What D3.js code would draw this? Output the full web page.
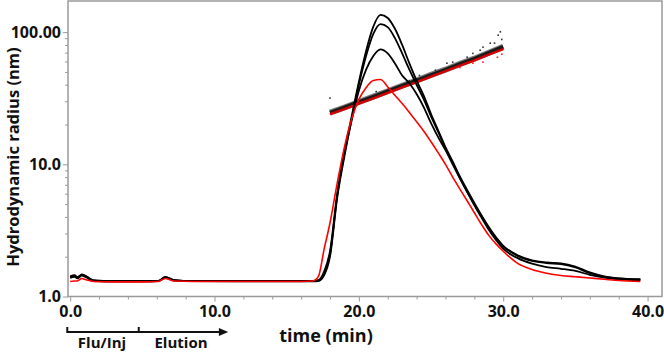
<!DOCTYPE html>
<html lang="en">
<head>
<meta charset="UTF-8">
<title>Hydrodynamic radius</title>
<script src="https://d3js.org/d3.v7.min.js"></script>
<style>
  body { margin: 0; background: #ffffff; overflow: hidden; }
  svg { display: block; font-family: "Open Sans", sans-serif; }
  .tick text { font-family: "Open Sans", sans-serif; font-weight: 700; fill: #111; }
</style>
</head>
<body>
<div id="chart"></div>
<script>
// elution time (min), shared by the four traces
const times = [0, 0.3, 0.5, 0.8, 1.1, 1.6, 3, 5, 6.1, 6.6, 7.2, 8.5, 12, 16, 16.8, 17.2, 17.6, 18, 18.5, 19,
  19.5, 20, 20.5, 21, 21.5, 22, 22.5, 23, 23.5, 24, 24.5, 25, 25.5, 26, 26.5, 27, 27.5, 28, 28.5, 29,
  29.5, 30, 31, 32, 33, 34, 35, 36, 37, 38, 39.5];

// black traces (three runs)
const blackA = [1.40, 1.43, 1.39, 1.46, 1.42, 1.32, 1.30, 1.30, 1.31, 1.40, 1.33, 1.31, 1.31, 1.31, 1.31, 1.33, 1.55, 2.2, 6.0, 12.5,
  23, 42, 72, 110, 135, 128, 106, 80, 58, 43, 33, 24, 18, 13.5, 10.5, 8.1, 6.4, 5.1, 4.1, 3.35,
  2.8, 2.42, 2.05, 1.88, 1.81, 1.78, 1.68, 1.52, 1.42, 1.37, 1.34];
const blackB = [1.38, 1.41, 1.37, 1.44, 1.40, 1.31, 1.30, 1.30, 1.31, 1.38, 1.32, 1.31, 1.30, 1.30, 1.30, 1.31, 1.45, 2.0, 5.6, 11.5,
  22, 40, 66, 97, 115, 109, 90, 69, 52, 40, 31, 23, 17.5, 13.2, 10.2, 7.9, 6.2, 4.9, 3.95, 3.2,
  2.68, 2.3, 1.95, 1.77, 1.67, 1.62, 1.56, 1.46, 1.39, 1.35, 1.33];
const blackC = [1.42, 1.45, 1.40, 1.47, 1.43, 1.33, 1.31, 1.31, 1.31, 1.41, 1.33, 1.31, 1.31, 1.31, 1.31, 1.32, 1.50, 2.1, 5.8, 12,
  21.5, 36, 52, 66, 74, 69, 58, 47, 41, 34, 27, 20.5, 16, 12.8, 10.0, 7.8, 6.2, 5.0, 4.05, 3.3,
  2.78, 2.4, 2.03, 1.86, 1.79, 1.76, 1.66, 1.50, 1.41, 1.37, 1.35];
// red trace
const redTrace = [1.30, 1.31, 1.31, 1.37, 1.34, 1.30, 1.29, 1.29, 1.30, 1.37, 1.31, 1.30, 1.30, 1.30, 1.31, 1.42, 2.3, 3.6, 7.2, 13.5,
  22, 31, 38, 43, 43.8, 38.5, 33.3, 28.8, 24.7, 21, 17.8, 14.8, 12.2, 10.0, 8.0, 6.5, 5.3, 4.3, 3.5, 2.9,
  2.5, 2.2, 1.78, 1.60, 1.50, 1.44, 1.41, 1.38, 1.35, 1.32, 1.30];

// radius points across the peak
const scatterTimes = [18, 19, 20, 21, 22, 23, 24, 25, 26, 27, 28, 29, 30];
const scatterBlack = [24.6, 26.9, 29.6, 32.5, 35.7, 39.3, 43.1, 47.5, 52, 57.5, 63, 69.8, 77.5];
const scatterRed = [24, 26.2, 28.8, 31.6, 34.7, 38.2, 41.9, 46.1, 50.6, 55.8, 61.2, 67.6, 74.5];
// stray points off the band
const strayBlack = [[18.0, 31.7], [21.2, 35.5], [23.5, 43], [24.2, 47], [25.3, 51.5], [26.1, 58.2], [26.5, 59.3],
  [27.5, 64.6], [27.9, 69], [28.4, 73], [28.6, 77], [29.1, 82.5], [29.4, 82.5], [29.65, 94.9], [29.8, 100.5],
  [29.9, 88]];
const strayRed = [[27.0, 54], [27.9, 58.2], [28.6, 59.3], [29.6, 64.6], [29.9, 68]];

const xMajor = [0, 10, 20, 30, 40];
const xTickVals = d3.range(0, 41, 2);
const yMajor = [1, 10, 100];
const yTickVals = [1, 2, 3, 4, 5, 6, 7, 8, 9, 10, 20, 30, 40, 50, 60, 70, 80, 90, 100];
const yLabels = {1: "1.0", 10: "10.0", 100: "100.00"};

const width = 664, height = 352;
const mLeft = 68, mRight = 662, mTop = 1, mBottom = 296.5;

const svg = d3.select("#chart").append("svg")
  .attr("width", width)
  .attr("height", height);

const x = d3.scaleLinear().domain([-0.15, 41]).range([mLeft, mRight]);
const y = d3.scaleLog().domain([1, 172]).range([mBottom, mTop]);

// axes
const xAxis = svg.append("g")
  .attr("transform", `translate(0,${mBottom})`)
  .call(d3.axisBottom(x).tickValues(xTickVals)
    .tickFormat(d => xMajor.includes(d) ? d3.format(".1f")(d) : "")
    .tickSizeOuter(0));
xAxis.select(".domain").remove();
xAxis.selectAll(".tick line")
  .attr("stroke", "#9a9a9a")
  .attr("y2", d => xMajor.includes(d) ? 5 : 3);
xAxis.selectAll(".tick text")
  .attr("y", 9)
  .attr("dy", "0.71em")
  .style("font-size", "16px");

const yAxis = svg.append("g")
  .attr("transform", `translate(${mLeft},0)`)
  .call(d3.axisLeft(y).tickValues(yTickVals)
    .tickFormat(d => yLabels[d] || "")
    .tickSizeOuter(0));
yAxis.select(".domain").remove();
yAxis.selectAll(".tick line")
  .attr("stroke", "#9a9a9a")
  .attr("x2", d => yMajor.includes(d) ? -5 : -3);
yAxis.selectAll(".tick text")
  .attr("x", -7)
  .style("font-size", "16px");

// frame
svg.append("rect")
  .attr("x", mLeft).attr("y", mTop)
  .attr("width", mRight - mLeft).attr("height", mBottom - mTop)
  .attr("fill", "none")
  .attr("stroke", "#9a9a9a")
  .attr("stroke-width", 1.5);

// radius band
const band = d3.line()
  .x((d, i) => x(scatterTimes[i]))
  .y(d => y(d));

svg.append("path")
  .datum(scatterBlack)
  .attr("d", band)
  .attr("fill", "none")
  .attr("stroke", "#333")
  .attr("stroke-opacity", 0.65)
  .attr("stroke-width", 6);
svg.append("path")
  .datum(scatterBlack)
  .attr("d", band)
  .attr("fill", "none")
  .attr("stroke", "#1a1a1a")
  .attr("stroke-width", 3.6);

svg.append("g").selectAll("rect")
  .data(strayBlack)
  .join("rect")
  .attr("x", d => x(d[0]) - 0.8)
  .attr("y", d => y(d[1]) - 0.8)
  .attr("width", 1.6).attr("height", 1.6)
  .attr("fill", "#333");

svg.append("path")
  .datum(scatterRed)
  .attr("d", band)
  .attr("fill", "none")
  .attr("stroke", "#d40000")
  .attr("stroke-width", 2.4);

svg.append("g").selectAll("rect")
  .data(strayRed)
  .join("rect")
  .attr("x", d => x(d[0]) - 0.8)
  .attr("y", d => y(d[1]) - 0.8)
  .attr("width", 1.6).attr("height", 1.6)
  .attr("fill", "#ff2020");

// elution traces
const trace = d3.line()
  .x((d, i) => x(times[i]))
  .y(d => y(d))
  .curve(d3.curveMonotoneX);

[blackA, blackB, blackC].forEach(s => {
  svg.append("path")
    .datum(s)
    .attr("d", trace)
    .attr("fill", "none")
    .attr("stroke", "#000")
    .attr("stroke-width", 1.8);
});

svg.append("path")
  .datum(redTrace)
  .attr("d", trace)
  .attr("fill", "none")
  .attr("stroke", "#ff0000")
  .attr("stroke-width", 1.6);

// axis titles
svg.append("text")
  .attr("transform", `translate(18.5,157) rotate(-90)`)
  .attr("text-anchor", "middle")
  .style("font-size", "16.5px")
  .style("font-weight", 700)
  .attr("fill", "#111")
  .text("Hydrodynamic radius (nm)");

svg.append("text")
  .attr("x", 326).attr("y", 342)
  .attr("text-anchor", "middle")
  .style("font-size", "18px")
  .style("font-weight", 700)
  .attr("fill", "#111")
  .text("time (min)");

// Flu/Inj - Elution arrow
const arrowY = 332;
const ann = svg.append("g").attr("stroke", "#111").attr("stroke-width", 2);
ann.append("line").attr("x1", x(-0.2)).attr("x2", x(10.6)).attr("y1", arrowY).attr("y2", arrowY);
ann.append("line").attr("x1", x(-0.2)).attr("x2", x(-0.2)).attr("y1", arrowY - 5).attr("y2", arrowY + 1);
ann.append("line").attr("x1", x(4.75)).attr("x2", x(4.75)).attr("y1", arrowY - 5).attr("y2", arrowY);
svg.append("path")
  .attr("d", `M${x(10.3)},${arrowY - 4}L${x(10.95)},${arrowY}L${x(10.3)},${arrowY + 4}Z`)
  .attr("fill", "#111");

svg.append("text")
  .attr("x", 102).attr("y", 348)
  .attr("text-anchor", "middle")
  .style("font-size", "15px")
  .style("font-weight", 700)
  .attr("fill", "#111")
  .text("Flu/Inj");
svg.append("text")
  .attr("x", 181).attr("y", 348)
  .attr("text-anchor", "middle")
  .style("font-size", "15px")
  .style("font-weight", 700)
  .attr("fill", "#111")
  .text("Elution");
</script>
</body>
</html>
